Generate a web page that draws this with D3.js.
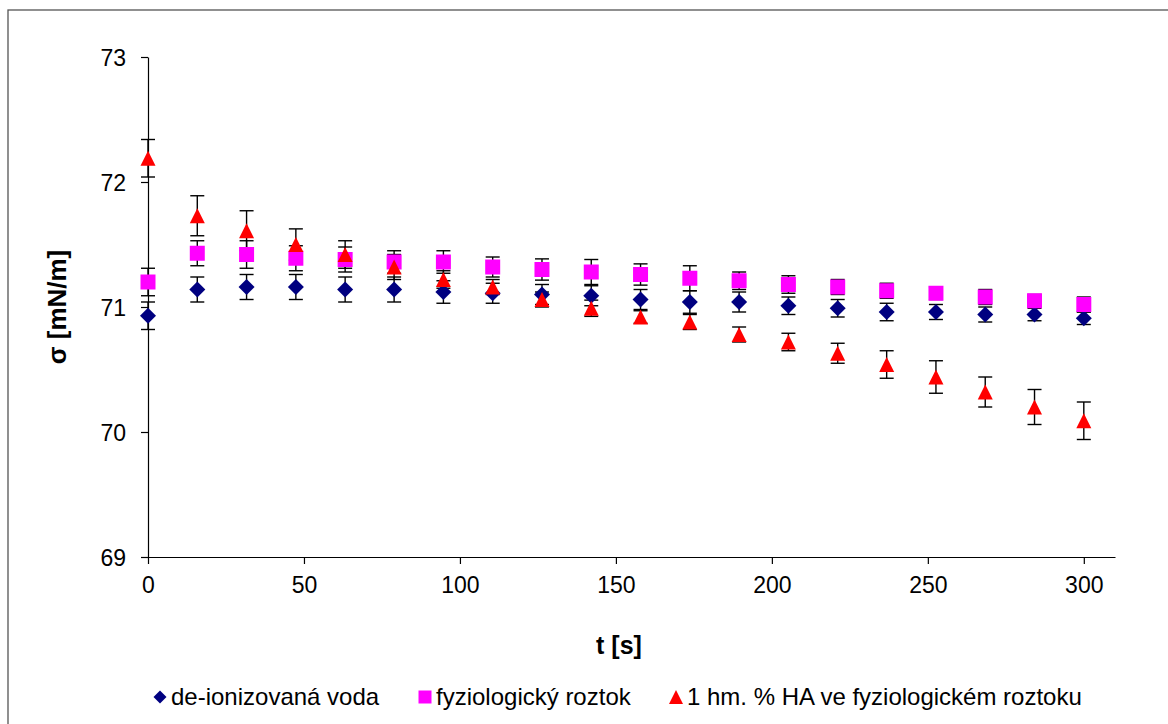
<!DOCTYPE html>
<html>
<head>
<meta charset="utf-8">
<script src="https://cdn.jsdelivr.net/npm/d3@7"></script>
<style>
  html, body { margin: 0; padding: 0; background: #fff; }
  svg { display: block; font-family: "Liberation Sans", Arial, sans-serif; }
</style>
</head>
<body>
<svg id="chart" width="1168" height="724"></svg>
<script>
// Measurement times [s]
const times = [0, 15.8, 31.6, 47.4, 63.2, 78.9, 94.7, 110.5, 126.3, 142.1, 157.9, 173.7, 189.5, 205.3, 221.1, 236.8, 252.6, 268.4, 284.2, 300];

// Surface tension σ [mN/m] and standard deviations
const vodaValues = [70.93, 71.14, 71.16, 71.16, 71.14, 71.14, 71.12, 71.11, 71.10, 71.09, 71.06, 71.04, 71.04, 71.01, 70.99, 70.96, 70.96, 70.94, 70.94, 70.91];
const vodaErrors = [0.11, 0.10, 0.10, 0.10, 0.10, 0.10, 0.09, 0.08, 0.08, 0.08, 0.08, 0.09, 0.08, 0.07, 0.07, 0.07, 0.06, 0.06, 0.05, 0.05];

const roztokValues = [71.20, 71.43, 71.42, 71.39, 71.38, 71.36, 71.36, 71.32, 71.30, 71.28, 71.26, 71.23, 71.21, 71.18, 71.16, 71.13, 71.11, 71.08, 71.05, 71.02];
const roztokErrors = [0.11, 0.10, 0.11, 0.10, 0.10, 0.09, 0.09, 0.08, 0.085, 0.10, 0.085, 0.10, 0.07, 0.07, 0.06, 0.06, 0.05, 0.06, 0.05, 0.06];

const haValues = [72.19, 71.73, 71.61, 71.50, 71.42, 71.32, 71.22, 71.16, 71.06, 70.99, 70.92, 70.88, 70.78, 70.72, 70.63, 70.54, 70.44, 70.32, 70.20, 70.09];
const haErrors = [0.15, 0.16, 0.16, 0.125, 0.11, 0.10, 0.07, 0.06, 0.06, 0.065, 0.05, 0.06, 0.06, 0.07, 0.08, 0.11, 0.13, 0.12, 0.14, 0.15];

const seriesNames = ["de-ionizovaná voda", "fyziologický roztok", "1 hm. % HA ve fyziologickém roztoku"];
const xTicks = [0, 50, 100, 150, 200, 250, 300];
const yTicks = [69, 70, 71, 72, 73];
const xTitle = "t [s]";
const yTitle = "σ [mN/m]";

// Marker shapes (size = bounding width in px)
const diamond = { draw(ctx, s) { const h = s / 2; ctx.moveTo(0, -h); ctx.lineTo(h, 0); ctx.lineTo(0, h); ctx.lineTo(-h, 0); ctx.closePath(); } };
const square = { draw(ctx, s) { const h = s / 2; ctx.rect(-h, -h, s, s); } };
const triangle = { draw(ctx, s) { const h = s / 2; ctx.moveTo(0, -h); ctx.lineTo(h, h); ctx.lineTo(-h, h); ctx.closePath(); } };

const series = [
  { name: seriesNames[0], values: vodaValues, errors: vodaErrors, color: "#000080", shape: diamond, size: 16 },
  { name: seriesNames[1], values: roztokValues, errors: roztokErrors, color: "#FF00FF", shape: square, size: 15 },
  { name: seriesNames[2], values: haValues, errors: haErrors, color: "#FF0000", shape: triangle, size: 15 }
];

const svg = d3.select("#chart");

// Chart frame
svg.append("rect").attr("x", 8).attr("y", 10).attr("width", 1200).attr("height", 740)
  .attr("fill", "#fff").attr("stroke", "#555").attr("stroke-width", 1.3);

const plot = { left: 148, right: 1115, top: 57, bottom: 557 };
const x = d3.scaleLinear().domain([0, 310]).range([plot.left, plot.right]);
const y = d3.scaleLinear().domain([69, 73]).range([plot.bottom, plot.top]);

// Axes
const xAxis = svg.append("g").attr("transform", `translate(0,${plot.bottom})`)
  .call(d3.axisBottom(x).tickValues(xTicks).tickFormat(d3.format("d")).tickSize(7).tickPadding(13).tickSizeOuter(0));
const yAxis = svg.append("g").attr("transform", `translate(${plot.left},0)`)
  .call(d3.axisLeft(y).tickValues(yTicks).tickFormat(d3.format("d")).tickSize(7).tickPadding(15).tickSizeOuter(0));
[xAxis, yAxis].forEach(g => {
  g.select(".domain").attr("stroke", "#000").attr("stroke-width", 1.2);
  g.selectAll(".tick line").attr("stroke", "#000").attr("stroke-width", 1.2);
  g.selectAll(".tick text").attr("fill", "#000").style("font-size", "23px")
    .style("font-family", '"Liberation Sans", Arial, sans-serif');
});
yAxis.selectAll(".tick text").attr("dy", "0.35em");

// Axis titles
svg.append("text").attr("x", 619).attr("y", 654).attr("text-anchor", "middle")
  .style("font-size", "25px").style("font-weight", "bold").text(xTitle);
svg.append("text").attr("transform", "translate(66,307) rotate(-90)").attr("text-anchor", "middle")
  .style("font-size", "26px").style("font-weight", "bold").text(yTitle);

// Error bars (behind markers)
const capW = 7;
series.forEach(s => {
  const g = svg.append("g").attr("stroke", "#000").attr("stroke-width", 1.4).attr("fill", "none");
  s.values.forEach((v, i) => {
    const cx = x(times[i]);
    const y1 = y(v + s.errors[i]), y2 = y(v - s.errors[i]);
    g.append("line").attr("x1", cx).attr("x2", cx).attr("y1", y1).attr("y2", y2);
    g.append("line").attr("x1", cx - capW).attr("x2", cx + capW).attr("y1", y1).attr("y2", y1);
    g.append("line").attr("x1", cx - capW).attr("x2", cx + capW).attr("y1", y2).attr("y2", y2);
  });
});

// Markers
series.forEach(s => {
  const sym = d3.symbol().type(s.shape).size(s.size);
  svg.append("g").selectAll("path").data(s.values).join("path")
    .attr("transform", (v, i) => `translate(${x(times[i])},${y(v)})`)
    .attr("d", sym).attr("fill", s.color);
});

// Legend
const legendY = 697;
const legendPos = [160, 425, 676];
const legendSizes = [13, 13, 14];
series.forEach((s, i) => {
  svg.append("path").attr("transform", `translate(${legendPos[i]},${legendY})`)
    .attr("d", d3.symbol().type(s.shape).size(legendSizes[i])).attr("fill", s.color);
  svg.append("text").attr("x", legendPos[i] + 11).attr("y", legendY).attr("dy", "0.35em")
    .style("font-size", "24px").attr("fill", "#000").text(s.name);
});
</script>
</body>
</html>
